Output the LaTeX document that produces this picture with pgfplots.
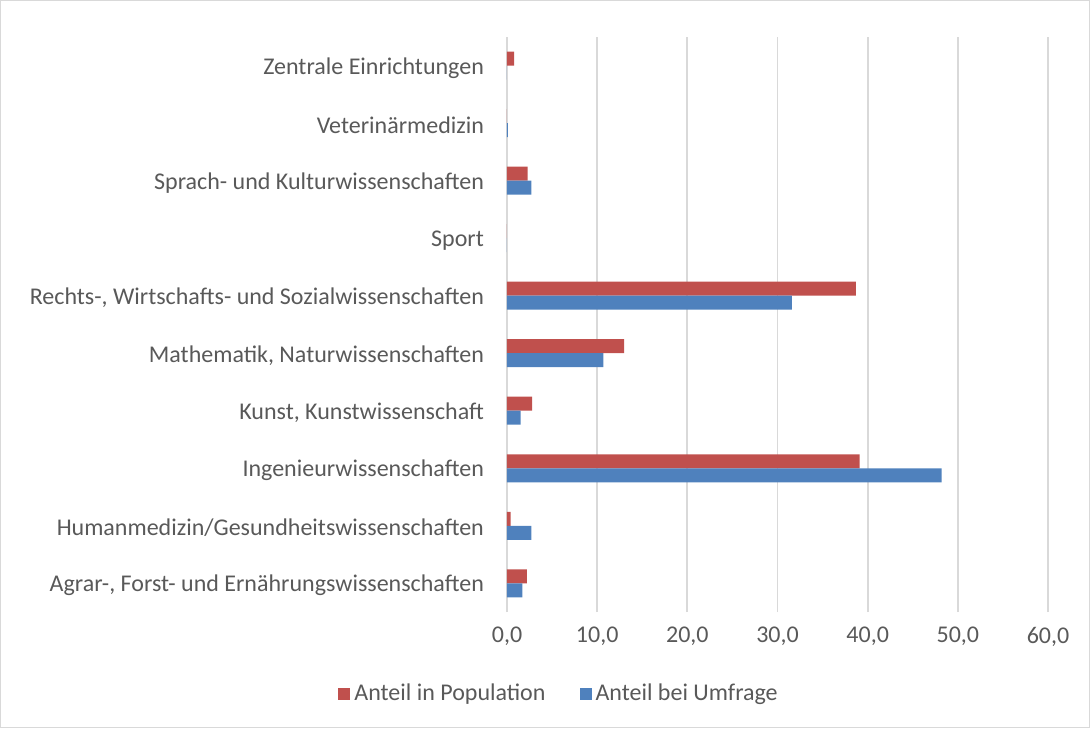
\documentclass[border=0pt]{standalone}
\usepackage{pgfplots}
\pgfplotsset{compat=1.18}
\usepackage{fontspec}
\setmainfont{Carlito}
\definecolor{cred}{HTML}{C0504D}
\definecolor{cblue}{HTML}{4F81BD}
\definecolor{ctext}{HTML}{595959}
\definecolor{cgrid}{HTML}{D9D9D9}
\begin{document}
\begin{tikzpicture}
\begin{axis}[
  at={(0,0)}, anchor=south west,
  scale only axis,
  width=270.5pt, height=287.5pt,
  xbar, bar width=7pt,
  xmin=0, xmax=60,
  ymin=-0.5, ymax=9.5,
  xtick={0,10,...,60},
  ytick={0,...,9},
  yticklabels={
    {Agrar-, Forst- und Ernährungswissenschaften},
    {Humanmedizin/Gesundheitswissenschaften},
    {Ingenieurwissenschaften},
    {Kunst, Kunstwissenschaft},
    {Mathematik, Naturwissenschaften},
    {Rechts-, Wirtschafts- und Sozialwissenschaften},
    {Sport},
    {Sprach- und Kulturwissenschaften},
    {Veterinärmedizin},
    {Zentrale Einrichtungen\ }},
  xmajorgrids, major grid style={cgrid, line width=0.9pt},
  axis line style={draw=none},
  major tick length=0pt,
  tick label style={font=\fontsize{12}{14}\selectfont, text=ctext},
  xticklabel style={yshift=-4pt},
  yticklabel style={xshift=-8pt, yshift=-1pt},
  /pgf/number format/.cd, fixed, fixed zerofill, precision=1, use comma, assume math mode=true,
  /pgfplots/.cd,
  legend columns=2,
  legend style={draw=none, fill=none, at={(0.098,-0.1426)}, anchor=center,
    font=\fontsize{12}{14}\selectfont, text=ctext,
    /tikz/every even column/.append style={column sep=15pt}},
  legend image code/.code={\fill[#1] (0pt,-3.2pt) rectangle (6pt,3.2pt);},
  clip=false,
]
\addplot[fill=cred, draw=none, bar shift=3.5pt] coordinates {
  (2.2,0) (0.4,1) (39.1,2) (2.8,3) (13.0,4) (38.7,5) (0,6) (2.3,7) (0,8) (0.8,9)};
\addplot[fill=cblue, draw=none, bar shift=-3.5pt] coordinates {
  (1.7,0) (2.7,1) (48.2,2) (1.5,3) (10.7,4) (31.6,5) (0,6) (2.7,7) (0.1,8) (0,9)};
\legend{Anteil in Population, Anteil bei Umfrage}
\end{axis}
\draw[cgrid, line width=0.6pt] (-253.2pt,-57.7pt) rectangle (291.2pt,305.7pt);
\end{tikzpicture}
\end{document}
